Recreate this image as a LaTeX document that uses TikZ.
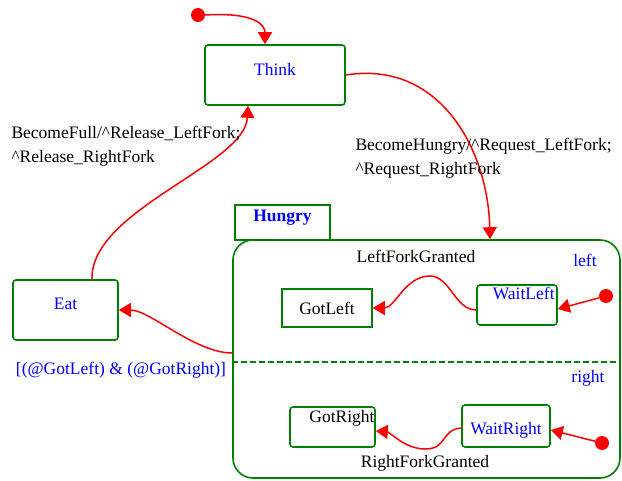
\documentclass[tikz,border=0pt]{standalone}
\usepackage{fontspec}
\setmainfont{Liberation Serif}
\usetikzlibrary{arrows.meta}
\definecolor{stgreen}{RGB}{0,128,0}
\definecolor{stblue}{RGB}{0,0,255}

\begin{document}
\begin{tikzpicture}[x=1pt, y=-1pt, font=\fontsize{17.5}{24}\selectfont,
    state/.style={draw=stgreen, line width=1.6pt, rounded corners=3pt, inner sep=0pt},
    dot/.style={circle, fill=red, inner sep=0pt, minimum size=14pt},
    trans/.style={draw=red, line width=1.5pt, -{Triangle[length=12pt,width=14pt]}}]
  \useasboundingbox (0,0) rectangle (622,481);

  % top level states
  \node[state, minimum width=140pt, minimum height=60pt,
        label={[stblue, yshift=6pt]center:Think}] (think) at (275,75) {};
  \node[state, minimum width=105pt, minimum height=60pt,
        label={[stblue, yshift=6pt]center:Eat}] (eat) at (65.5,310) {};
  \node[dot] (init) at (198,15) {};

  % Hungry with its two regions
  \node[state, rounded corners=20pt, minimum width=387pt, minimum height=238pt] (hungry) at (426.5,359) {};
  \node[state, rounded corners=0pt, fill=white, minimum width=95pt, minimum height=35pt,
        label={[stblue, font=\fontsize{17.5}{24}\selectfont\bfseries, yshift=5pt]center:Hungry}] (tab) at (282.5,222.5) {};
  \draw[stgreen, line width=1.5pt, dash pattern=on 6pt off 3pt] ([yshift=-3pt]hungry.west) -- ([yshift=-3pt]hungry.east);
  \node[stblue] (lblL) at (585,260) {left};
  \node[stblue] (lblR) at (588,378) {right};

  \node[state, rounded corners=0pt, minimum width=90pt, minimum height=38pt] (gotL) at (327,308) {GotLeft};
  \node[state, minimum width=80pt, minimum height=40pt,
        label={[stblue, anchor=north east, inner sep=3pt]north east:WaitLeft}] (waitL) at (517,305) {};
  \node[dot] (initL) at (606,296) {};
  \node[state, minimum width=85pt, minimum height=40pt,
        label={[anchor=north east, inner sep=1pt, yshift=-3pt]north east:GotRight}] (gotR) at (332.5,427) {};
  \node[state, minimum width=88pt, minimum height=42pt,
        label={[stblue, yshift=-4pt]center:WaitRight}] (waitR) at (506,426) {};
  \node[dot] (initR) at (602,443) {};

  % transitions
  \draw[trans] (init.east) .. controls (255,12) and (265,25) .. ([xshift=-10pt]think.north);
  \draw[trans] (think.east) .. controls (440,60) and (488,150) .. ([xshift=63.5pt]hungry.north);
  \draw[trans] ([xshift=26.5pt]eat.north) .. controls (90,210) and (245,165) .. ([xshift=-27pt]think.south);
  \draw[trans] ([yshift=6pt]hungry.west) .. controls (195,353) and (150,310) .. (eat.east);
  \draw[trans] (initL) -- ([yshift=-4pt]waitL.east);
  \draw[trans] ([yshift=-5pt]waitL.west) .. controls (455,310) and (450,276) .. (430,276)
               .. controls (405,276) and (395,308) .. (gotL.east);
  \draw[trans] (initR) -- ([yshift=-4pt]waitR.east);
  \draw[trans] ([yshift=-2pt]waitR.west) .. controls (440,430) and (448,449) .. (425,449)
               .. controls (405,449) and (390,432) .. ([yshift=-4pt]gotR.east);

  % trigger texts
  \node[anchor=west, align=left] (full) at (8,146) {BecomeFull/\^{}Release\_LeftFork;\\\^{}Release\_RightFork};
  \node[anchor=west, align=left] (hungryTr) at (352,158) {BecomeHungry/\^{}Request\_LeftFork;\\\^{}Request\_RightFork};
  \node[stblue] (guard) at (121,370) {[(@GotLeft) \& (@GotRight)]};
  \node (grantL) at (416,256) {LeftForkGranted};
  \node (grantR) at (425,463) {RightForkGranted};
\end{tikzpicture}
\end{document}
